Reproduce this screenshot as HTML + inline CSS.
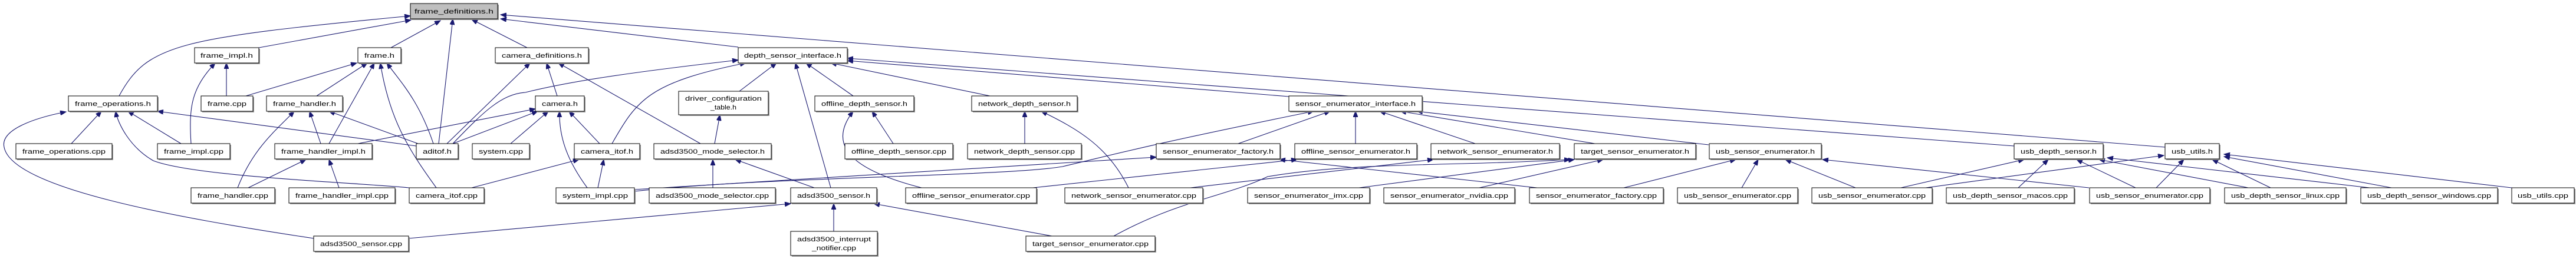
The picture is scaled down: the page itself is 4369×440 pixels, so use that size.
<!DOCTYPE html>
<html><head><meta charset="utf-8"><style>
html,body{margin:0;padding:0;background:#fff;width:4369px;height:440px;overflow:hidden}
svg{display:block}
text{font-family:"Liberation Sans",sans-serif;font-size:11px;fill:#000}
.e{stroke:#191970;stroke-width:1.1;fill:none;marker-end:url(#a)}
.b{fill:#fff;stroke:#000;stroke-width:1}
.s{fill:#999}
</style></head><body>
<svg width="4369" height="440" viewBox="0 0 4369 440" xmlns="http://www.w3.org/2000/svg">
<defs><marker id="a" markerUnits="userSpaceOnUse" markerWidth="11" markerHeight="8" refX="10" refY="4" orient="auto"><path d="M0,0 L10,4 L0,8 z" fill="#191970" stroke="#191970"/></marker></defs>
<g>
<path class="e" d="M202,163 C250,75 300,65 696,27"/>
<path class="e" d="M439,81 L697,34"/>
<path class="e" d="M663,81 L747,35"/>
<path class="e" d="M744,244 L768,32"/>
<path class="e" d="M894,81 L800,33"/>
<path class="e" d="M1252,80 L849,32"/>
<path class="e" d="M3672,250 L849,25"/>
<path class="e" d="M417,163 L605,107"/>
<path class="e" d="M537,163 L623,107"/>
<path class="e" d="M558,244 L635,107"/>
<path class="e" d="M740,319 C690,250 660,200 645,107"/>
<path class="e" d="M735,244 C710,170 680,140 656,107"/>
<path class="e" d="M384,163 L384,107"/>
<path class="e" d="M324,244 C320,180 325,150 365,107"/>
<path class="e" d="M121,244 L172,189"/>
<path class="e" d="M307,244 L217,189"/>
<path class="e" d="M694,319 C600,310 330,300 260,273 C220,250 200,210 196,189"/>
<path class="e" d="M706,248 L267,189"/>
<path class="e" d="M532,405 C300,370 20,320 7,250 C0,220 60,200 112,190"/>
<path class="e" d="M421,319 L519,271"/>
<path class="e" d="M575,319 L558,271"/>
<path class="e" d="M403,319 C430,250 470,220 499,189"/>
<path class="e" d="M544,244 L525,189"/>
<path class="e" d="M709,244 L558,189"/>
<path class="e" d="M607,244 L908,185"/>
<path class="e" d="M768,244 L912,189"/>
<path class="e" d="M866,244 L930,189"/>
<path class="e" d="M1017,244 L965,189"/>
<path class="e" d="M996,319 C960,270 948,230 949,189"/>
<path class="e" d="M945,163 L927,107"/>
<path class="e" d="M758,244 L899,107"/>
<path class="e" d="M1188,244 L947,107"/>
<path class="e" d="M800,319 L982,271"/>
<path class="e" d="M1014,319 L1024,271"/>
<path class="e" d="M768,244 C820,190 850,160 891,157 C960,140 1050,125 1252,102"/>
<path class="e" d="M1038,244 C1080,170 1100,140 1265,107"/>
<path class="e" d="M1254,155 L1317,107"/>
<path class="e" d="M1409,319 L1349,107"/>
<path class="e" d="M1447,163 L1367,107"/>
<path class="e" d="M1679,163 L1409,107"/>
<path class="e" d="M2186,164 L1437,103"/>
<path class="e" d="M3416,248 L1437,99"/>
<path class="e" d="M1212,244 L1221,195"/>
<path class="e" d="M1209,319 L1209,271"/>
<path class="e" d="M1381,319 L1247,271"/>
<path class="e" d="M1414,393 L1414,346"/>
<path class="e" d="M1784,401 L1482,346"/>
<path class="e" d="M693,405 L1341,346"/>
<path class="e" d="M1515,244 L1479,189"/>
<path class="e" d="M1563,319 C1450,290 1400,250 1447,189"/>
<path class="e" d="M1738,244 L1738,189"/>
<path class="e" d="M1914,319 C1880,250 1830,220 1766,189"/>
<path class="e" d="M1076,322 L1961,267"/>
<path class="e" d="M1076,325 C1300,300 1700,300 1802,283 C1900,260 1942,247 2228,189"/>
<path class="e" d="M2100,244 L2256,189"/>
<path class="e" d="M2299,244 L2299,189"/>
<path class="e" d="M2502,244 L2340,189"/>
<path class="e" d="M2705,244 L2375,189"/>
<path class="e" d="M2898,246 L2403,189"/>
<path class="e" d="M1752,319 L2200,271"/>
<path class="e" d="M2607,319 L2170,271"/>
<path class="e" d="M2019,319 L2431,271"/>
<path class="e" d="M1889,401 C2000,340 2082,333 2150,300 C2300,275 2450,283 2663,271"/>
<path class="e" d="M2305,319 L2670,271"/>
<path class="e" d="M2509,319 L2719,271"/>
<path class="e" d="M2754,319 L2944,271"/>
<path class="e" d="M2954,319 L2982,271"/>
<path class="e" d="M3147,319 L3028,271"/>
<path class="e" d="M3543,319 L3091,271"/>
<path class="e" d="M3224,319 L3433,271"/>
<path class="e" d="M3266,319 L3670,264"/>
<path class="e" d="M3423,319 L3474,271"/>
<path class="e" d="M3622,319 L3522,271"/>
<path class="e" d="M3813,319 L3560,271"/>
<path class="e" d="M4019,319 L3574,268"/>
<path class="e" d="M3657,319 L3704,271"/>
<path class="e" d="M3851,319 L3752,271"/>
<path class="e" d="M4056,319 L3772,266"/>
<path class="e" d="M4260,319 L3772,262"/>
</g>
<g id="nodes">
<rect class="s" x="698" y="8" width="148" height="26"/><rect x="696" y="6" width="148" height="26" fill="#bfbfbf" stroke="#000"/><text x="770" y="23" text-anchor="middle" textLength="134" lengthAdjust="spacingAndGlyphs">frame_definitions.h</text>

<rect class="s" x="332" y="83" width="109" height="26"/><rect class="b" x="330" y="81" width="109" height="26"/><text x="384.5" y="98" text-anchor="middle" textLength="89" lengthAdjust="spacingAndGlyphs">frame_impl.h</text>
<rect class="s" x="609" y="83" width="73" height="26"/><rect class="b" x="607" y="81" width="73" height="26"/><text x="643.5" y="98" text-anchor="middle" textLength="51" lengthAdjust="spacingAndGlyphs">frame.h</text>
<rect class="s" x="842" y="83" width="158" height="26"/><rect class="b" x="840" y="81" width="158" height="26"/><text x="919" y="98" text-anchor="middle" textLength="136" lengthAdjust="spacingAndGlyphs">camera_definitions.h</text>
<rect class="s" x="1254" y="83" width="185" height="26"/><rect class="b" x="1252" y="81" width="185" height="26"/><text x="1344.5" y="98" text-anchor="middle" textLength="165" lengthAdjust="spacingAndGlyphs">depth_sensor_interface.h</text>

<rect class="s" x="118" y="165" width="151" height="26"/><rect class="b" x="116" y="163" width="151" height="26"/><text x="191.5" y="180" text-anchor="middle" textLength="129" lengthAdjust="spacingAndGlyphs">frame_operations.h</text>
<rect class="s" x="343" y="165" width="88" height="26"/><rect class="b" x="341" y="163" width="88" height="26"/><text x="385" y="180" text-anchor="middle" textLength="66" lengthAdjust="spacingAndGlyphs">frame.cpp</text>
<rect class="s" x="454" y="165" width="129" height="26"/><rect class="b" x="452" y="163" width="129" height="26"/><text x="516.5" y="180" text-anchor="middle" textLength="107" lengthAdjust="spacingAndGlyphs">frame_handler.h</text>
<rect class="s" x="910" y="165" width="83" height="26"/><rect class="b" x="908" y="163" width="83" height="26"/><text x="949.5" y="180" text-anchor="middle" textLength="61" lengthAdjust="spacingAndGlyphs">camera.h</text>
<rect class="s" x="1384" y="165" width="168" height="26"/><rect class="b" x="1382" y="163" width="168" height="26"/><text x="1466" y="180" text-anchor="middle" textLength="146" lengthAdjust="spacingAndGlyphs">offline_depth_sensor.h</text>
<rect class="s" x="1650" y="165" width="179" height="26"/><rect class="b" x="1648" y="163" width="179" height="26"/><text x="1737.5" y="180" text-anchor="middle" textLength="157" lengthAdjust="spacingAndGlyphs">network_depth_sensor.h</text>
<rect class="s" x="2188" y="165" width="226" height="26"/><rect class="b" x="2186" y="163" width="226" height="26"/><text x="2299" y="180" text-anchor="middle" textLength="204" lengthAdjust="spacingAndGlyphs">sensor_enumerator_interface.h</text>
<rect class="s" x="1153" y="157" width="152" height="40"/><rect class="b" x="1151" y="155" width="152" height="40"/><text x="1227" y="171" text-anchor="middle" textLength="130" lengthAdjust="spacingAndGlyphs">driver_configuration</text><text x="1227" y="186" text-anchor="middle" textLength="44" lengthAdjust="spacingAndGlyphs">_table.h</text>

<rect class="s" x="29" y="246" width="163" height="26"/><rect class="b" x="27" y="244" width="163" height="26"/><text x="108.5" y="261" text-anchor="middle" textLength="141" lengthAdjust="spacingAndGlyphs">frame_operations.cpp</text>
<rect class="s" x="269" y="246" width="123" height="26"/><rect class="b" x="267" y="244" width="123" height="26"/><text x="328.5" y="261" text-anchor="middle" textLength="101" lengthAdjust="spacingAndGlyphs">frame_impl.cpp</text>
<rect class="s" x="468" y="246" width="165" height="26"/><rect class="b" x="466" y="244" width="165" height="26"/><text x="548.5" y="261" text-anchor="middle" textLength="143" lengthAdjust="spacingAndGlyphs">frame_handler_impl.h</text>
<rect class="s" x="708" y="246" width="71" height="26"/><rect class="b" x="706" y="244" width="71" height="26"/><text x="741.5" y="261" text-anchor="middle" textLength="49" lengthAdjust="spacingAndGlyphs">aditof.h</text>
<rect class="s" x="803" y="246" width="97" height="26"/><rect class="b" x="801" y="244" width="97" height="26"/><text x="849.5" y="261" text-anchor="middle" textLength="75" lengthAdjust="spacingAndGlyphs">system.cpp</text>
<rect class="s" x="976" y="246" width="111" height="26"/><rect class="b" x="974" y="244" width="111" height="26"/><text x="1029.5" y="261" text-anchor="middle" textLength="89" lengthAdjust="spacingAndGlyphs">camera_itof.h</text>
<rect class="s" x="1111" y="246" width="199" height="26"/><rect class="b" x="1109" y="244" width="199" height="26"/><text x="1208.5" y="261" text-anchor="middle" textLength="177" lengthAdjust="spacingAndGlyphs">adsd3500_mode_selector.h</text>
<rect class="s" x="1435" y="246" width="183" height="26"/><rect class="b" x="1433" y="244" width="183" height="26"/><text x="1524.5" y="261" text-anchor="middle" textLength="161" lengthAdjust="spacingAndGlyphs">offline_depth_sensor.cpp</text>
<rect class="s" x="1643" y="246" width="193" height="26"/><rect class="b" x="1641" y="244" width="193" height="26"/><text x="1737.5" y="261" text-anchor="middle" textLength="171" lengthAdjust="spacingAndGlyphs">network_depth_sensor.cpp</text>
<rect class="s" x="1963" y="246" width="210" height="26"/><rect class="b" x="1961" y="244" width="210" height="26"/><text x="2066" y="261" text-anchor="middle" textLength="188" lengthAdjust="spacingAndGlyphs">sensor_enumerator_factory.h</text>
<rect class="s" x="2198" y="246" width="207" height="26"/><rect class="b" x="2196" y="244" width="207" height="26"/><text x="2299.5" y="261" text-anchor="middle" textLength="185" lengthAdjust="spacingAndGlyphs">offline_sensor_enumerator.h</text>
<rect class="s" x="2429" y="246" width="218" height="26"/><rect class="b" x="2427" y="244" width="218" height="26"/><text x="2536" y="261" text-anchor="middle" textLength="196" lengthAdjust="spacingAndGlyphs">network_sensor_enumerator.h</text>
<rect class="s" x="2672" y="246" width="206" height="26"/><rect class="b" x="2670" y="244" width="206" height="26"/><text x="2773" y="261" text-anchor="middle" textLength="184" lengthAdjust="spacingAndGlyphs">target_sensor_enumerator.h</text>
<rect class="s" x="2901" y="246" width="190" height="26"/><rect class="b" x="2899" y="244" width="190" height="26"/><text x="2994" y="261" text-anchor="middle" textLength="168" lengthAdjust="spacingAndGlyphs">usb_sensor_enumerator.h</text>
<rect class="s" x="3418" y="246" width="151" height="26"/><rect class="b" x="3416" y="244" width="151" height="26"/><text x="3491.5" y="261" text-anchor="middle" textLength="129" lengthAdjust="spacingAndGlyphs">usb_depth_sensor.h</text>
<rect class="s" x="3674" y="246" width="92" height="26"/><rect class="b" x="3672" y="244" width="92" height="26"/><text x="3718" y="261" text-anchor="middle" textLength="70" lengthAdjust="spacingAndGlyphs">usb_utils.h</text>

<rect class="s" x="326" y="321" width="142" height="26"/><rect class="b" x="324" y="319" width="142" height="26"/><text x="395" y="336" text-anchor="middle" textLength="120" lengthAdjust="spacingAndGlyphs">frame_handler.cpp</text>
<rect class="s" x="492" y="321" width="180" height="26"/><rect class="b" x="490" y="319" width="180" height="26"/><text x="580" y="336" text-anchor="middle" textLength="158" lengthAdjust="spacingAndGlyphs">frame_handler_impl.cpp</text>
<rect class="s" x="696" y="321" width="127" height="26"/><rect class="b" x="694" y="319" width="127" height="26"/><text x="757.5" y="336" text-anchor="middle" textLength="105" lengthAdjust="spacingAndGlyphs">camera_itof.cpp</text>
<rect class="s" x="945" y="321" width="133" height="26"/><rect class="b" x="943" y="319" width="133" height="26"/><text x="1009.5" y="336" text-anchor="middle" textLength="111" lengthAdjust="spacingAndGlyphs">system_impl.cpp</text>
<rect class="s" x="1103" y="321" width="214" height="26"/><rect class="b" x="1101" y="319" width="214" height="26"/><text x="1208" y="336" text-anchor="middle" textLength="192" lengthAdjust="spacingAndGlyphs">adsd3500_mode_selector.cpp</text>
<rect class="s" x="1343" y="321" width="146" height="26"/><rect class="b" x="1341" y="319" width="146" height="26"/><text x="1414" y="336" text-anchor="middle" textLength="124" lengthAdjust="spacingAndGlyphs">adsd3500_sensor.h</text>
<rect class="s" x="1538" y="321" width="222" height="26"/><rect class="b" x="1536" y="319" width="222" height="26"/><text x="1647" y="336" text-anchor="middle" textLength="200" lengthAdjust="spacingAndGlyphs">offline_sensor_enumerator.cpp</text>
<rect class="s" x="1808" y="321" width="234" height="26"/><rect class="b" x="1806" y="319" width="234" height="26"/><text x="1923" y="336" text-anchor="middle" textLength="212" lengthAdjust="spacingAndGlyphs">network_sensor_enumerator.cpp</text>
<rect class="s" x="2118" y="321" width="207" height="26"/><rect class="b" x="2116" y="319" width="207" height="26"/><text x="2219.5" y="336" text-anchor="middle" textLength="185" lengthAdjust="spacingAndGlyphs">sensor_enumerator_imx.cpp</text>
<rect class="s" x="2349" y="321" width="222" height="26"/><rect class="b" x="2347" y="319" width="222" height="26"/><text x="2458" y="336" text-anchor="middle" textLength="200" lengthAdjust="spacingAndGlyphs">sensor_enumerator_nvidia.cpp</text>
<rect class="s" x="2596" y="321" width="227" height="26"/><rect class="b" x="2594" y="319" width="227" height="26"/><text x="2707.5" y="336" text-anchor="middle" textLength="205" lengthAdjust="spacingAndGlyphs">sensor_enumerator_factory.cpp</text>
<rect class="s" x="2847" y="321" width="204" height="26"/><rect class="b" x="2845" y="319" width="204" height="26"/><text x="2947" y="336" text-anchor="middle" textLength="182" lengthAdjust="spacingAndGlyphs">usb_sensor_enumerator.cpp</text>
<rect class="s" x="3075" y="321" width="204" height="26"/><rect class="b" x="3073" y="319" width="204" height="26"/><text x="3175" y="336" text-anchor="middle" textLength="182" lengthAdjust="spacingAndGlyphs">usb_sensor_enumerator.cpp</text>
<rect class="s" x="3303" y="321" width="217" height="26"/><rect class="b" x="3301" y="319" width="217" height="26"/><text x="3409.5" y="336" text-anchor="middle" textLength="195" lengthAdjust="spacingAndGlyphs">usb_depth_sensor_macos.cpp</text>
<rect class="s" x="3546" y="321" width="204" height="26"/><rect class="b" x="3544" y="319" width="204" height="26"/><text x="3646" y="336" text-anchor="middle" textLength="182" lengthAdjust="spacingAndGlyphs">usb_sensor_enumerator.cpp</text>
<rect class="s" x="3775" y="321" width="206" height="26"/><rect class="b" x="3773" y="319" width="206" height="26"/><text x="3876" y="336" text-anchor="middle" textLength="184" lengthAdjust="spacingAndGlyphs">usb_depth_sensor_linux.cpp</text>
<rect class="s" x="4006" y="321" width="232" height="26"/><rect class="b" x="4004" y="319" width="232" height="26"/><text x="4120" y="336" text-anchor="middle" textLength="210" lengthAdjust="spacingAndGlyphs">usb_depth_sensor_windows.cpp</text>
<rect class="s" x="4262" y="321" width="106" height="26"/><rect class="b" x="4260" y="319" width="106" height="26"/><text x="4313" y="336" text-anchor="middle" textLength="86" lengthAdjust="spacingAndGlyphs">usb_utils.cpp</text>

<rect class="s" x="534" y="403" width="161" height="26"/><rect class="b" x="532" y="401" width="161" height="26"/><text x="612.5" y="418" text-anchor="middle" textLength="139" lengthAdjust="spacingAndGlyphs">adsd3500_sensor.cpp</text>
<rect class="s" x="1343" y="395" width="147" height="41"/><rect class="b" x="1341" y="393" width="147" height="41"/><text x="1414.5" y="410" text-anchor="middle" textLength="125" lengthAdjust="spacingAndGlyphs">adsd3500_interrupt</text><text x="1414.5" y="425" text-anchor="middle" textLength="75" lengthAdjust="spacingAndGlyphs">_notifier.cpp</text>
<rect class="s" x="1742" y="403" width="219" height="26"/><rect class="b" x="1740" y="401" width="219" height="26"/><text x="1849.5" y="418" text-anchor="middle" textLength="197" lengthAdjust="spacingAndGlyphs">target_sensor_enumerator.cpp</text>
</g>
</svg>
</body></html>
